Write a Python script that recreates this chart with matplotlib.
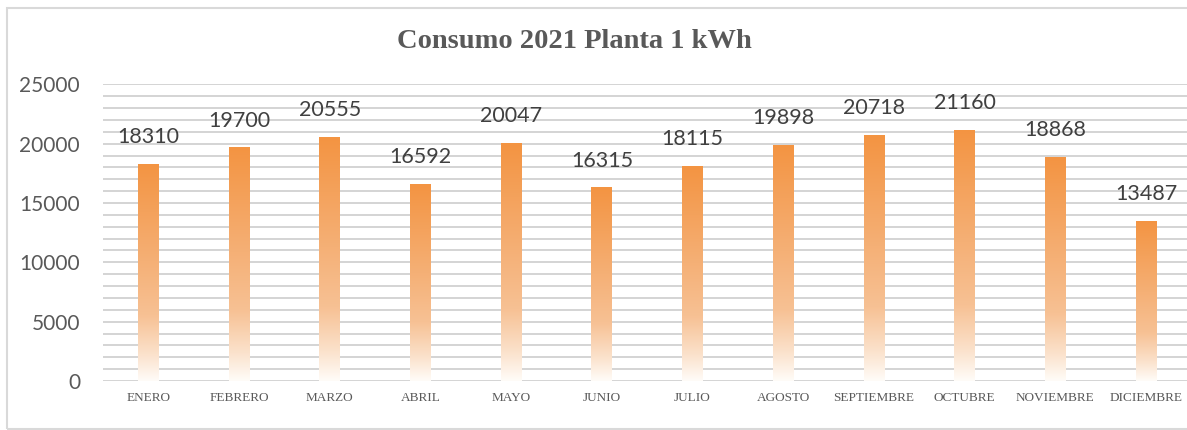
import matplotlib
matplotlib.use("Agg")
import matplotlib.pyplot as plt
import numpy as np
from matplotlib.colors import LinearSegmentedColormap
from matplotlib.patches import Rectangle

months = ["ENERO", "FEBRERO", "MARZO", "ABRIL", "MAYO", "JUNIO", "JULIO",
          "AGOSTO", "SEPTIEMBRE", "OCTUBRE", "NOVIEMBRE", "DICIEMBRE"]
consumo = [18310, 19700, 20555, 16592, 20047, 16315, 18115,
           19898, 20718, 21160, 18868, 13487]
title = "Consumo 2021 Planta 1 kWh"
yticks = [0, 5000, 10000, 15000, 20000, 25000]

W, H = 1187, 430
fig = plt.figure(figsize=(W / 100, H / 100), dpi=100)
fig.patch.set_facecolor("white")

# outer chart border
fig.patches.append(Rectangle((7 / W, 1.5 / H), 1.2, (H - 9.5) / H,
                             transform=fig.transFigure, fill=False,
                             edgecolor="#d9d9d9", linewidth=1.5))

ax = fig.add_axes([103 / W, 49 / H, 1 - 103 / W, (381 - 84.3) / H])
ax.set_xlim(-0.5, 11.45)
ax.set_ylim(0, 25000)

x = np.arange(len(months))
bars = ax.bar(x, consumo, width=0.23, color="none", edgecolor="none", zorder=3)

cmap = LinearSegmentedColormap.from_list("grad", [
    (0.0, (255 / 255, 252 / 255, 248 / 255)),
    (0.12, (251 / 255, 226 / 255, 204 / 255)),
    (0.30, (247 / 255, 193 / 255, 148 / 255)),
    (0.55, (245 / 255, 176 / 255, 118 / 255)),
    (1.0, (243 / 255, 148 / 255, 66 / 255)),
])
grad = np.linspace(0, 1, 256).reshape(-1, 1)
for b in bars:
    x0, y0 = b.get_x(), b.get_y()
    w, h = b.get_width(), b.get_height()
    im = ax.imshow(grad, cmap=cmap, origin="lower", aspect="auto",
                   extent=(x0, x0 + w, y0, y0 + h), zorder=3)
    im.set_clip_path(b)

ax.set_xlim(-0.5, 11.45)
ax.set_ylim(0, 25000)

for xi, v in zip(x, consumo):
    ax.annotate(f"{v}", (xi, v), xytext=(0, 12), textcoords="offset points",
                ha="center", va="bottom", fontsize=15.5, family="Lato",
                color="#404040", zorder=4)

ax.set_yticks(yticks)
ax.set_yticklabels([str(t) for t in yticks], fontsize=15, family="Lato",
                   color="#595959")
ax.set_yticks(np.arange(0, 25001, 1000), minor=True)
ax.grid(True, which="both", axis="y", color="#d4d4d4", linewidth=1.4, zorder=0)
ax.set_axisbelow(True)
ax.set_xticks(x)
ax.set_xticklabels(months, fontsize=9.5, family="Liberation Serif",
                   color="#595959")
ax.tick_params(axis="both", which="both", length=0)
ax.tick_params(axis="y", pad=16.5)
ax.tick_params(axis="x", pad=8)
for s in ax.spines.values():
    s.set_visible(False)

fig.text(574.5 / W, 1 - 41 / H, title, ha="center", va="center",
         fontsize=20.5, fontweight="bold", family="Liberation Serif",
         color="#595959")

fig.savefig("out.png", dpi=100)
